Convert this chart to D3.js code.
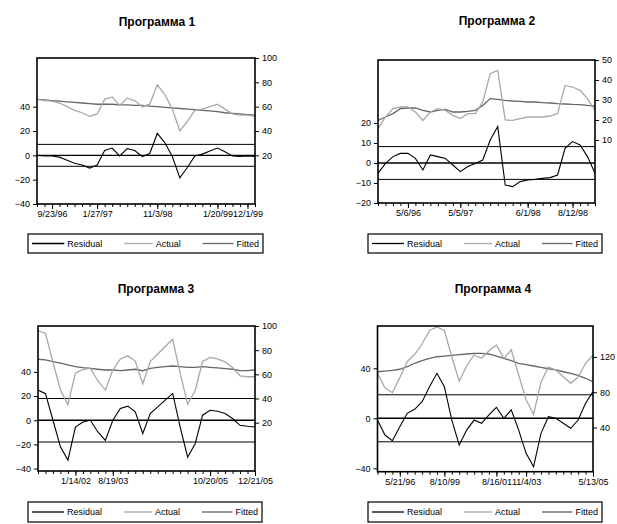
<!DOCTYPE html>
<html>
<head>
<meta charset="utf-8">
<script src="https://cdn.jsdelivr.net/npm/d3@7"></script>
<style>
body { margin: 0; background: #fff; }
text { font-family: "Liberation Sans", Arial, sans-serif; }
</style>
</head>
<body>
<div id="chart"></div>
<script>
const titles = ["Программа 1", "Программа 2", "Программа 3", "Программа 4"];
const legendNames = ["Residual", "Actual", "Fitted"];

// Программа 1
const p1Actual = [66, 65, 64.5, 63, 60, 57, 55, 52, 54, 66, 68, 61, 67, 65, 60, 62, 78, 70, 58, 40, 48, 57, 58, 60, 62, 58, 54, 53, 53, 52];
const p1Fitted = [66, 65.5, 65, 64.5, 64, 63.5, 63, 62.5, 62, 62, 62, 61.5, 61.5, 61, 61, 60.5, 60, 59.5, 59, 58.5, 58, 57.5, 57, 56.5, 56, 55, 54.5, 54, 53.5, 53];
const p1Resid  = [0, -0.5, -0.5, -1.5, -4, -6.5, -8, -10.5, -8, 4, 6, -0.5, 5.5, 4, -1, 1.5, 18, 10.5, -1, -18.5, -10, -0.5, 1, 3.5, 6, 3, -0.5, -1, -0.5, -1];
const p1Se = 9;
const p1TickAt = [2, 8, 16, 24, 28];
const p1TickLabels = ["9/23/96", "1/27/97", "11/3/98", "1/20/99", "12/1/99"];

// Программа 2
const p2Actual = [15.7, 21.5, 25.7, 26.5, 26.5, 24, 19.8, 24, 25.7, 24.8, 22.3, 20.7, 23.2, 23.2, 29, 43.2, 44.8, 20, 19.8, 20.7, 21.5, 21.5, 21.5, 22, 23.2, 37.3, 36.5, 34.8, 30.7, 24.8];
const p2Fitted = [19.8, 21.5, 23.2, 25.7, 26, 26, 24.8, 24, 24.8, 25.3, 24, 24, 24.3, 24.8, 27.3, 30.7, 30.3, 29.8, 29.5, 29.3, 29, 29, 28.7, 28.5, 28.2, 28, 27.8, 27.7, 27.3, 27];
const p2Resid  = [-5.2, -0.2, 3.2, 4.8, 4.8, 2.3, -3.5, 4, 3.2, 2.3, -1, -4.3, -1.8, -0.2, 1.5, 11.5, 18.2, -11, -11.8, -9.3, -8.5, -8.2, -7.7, -7.3, -6, 7.3, 10.7, 9, 3.2, -5.2];
const p2Se = 8.2;
const p2TickAt = [4, 11, 20, 26];
const p2TickLabels = ["5/6/96", "5/5/97", "6/1/98", "8/12/98"];

// Программа 3
const p3Actual = [96, 94, 70, 47, 35, 61, 64, 65, 54.5, 47, 63.5, 72.7, 75.3, 71, 52, 70.6, 76.8, 83, 89, 60.8, 35.2, 46.4, 70.6, 74, 72.8, 70.3, 65.6, 58.8, 58, 58];
const p3Fitted = [72.5, 71.9, 70.5, 69.2, 67.8, 66.4, 65.5, 65, 64.2, 63.6, 63.6, 63, 63.6, 64.2, 63, 65, 65.8, 66.4, 66.9, 66.4, 65.8, 65.8, 66.4, 65.8, 65.3, 64.7, 64.2, 63, 63, 63.6];
const p3Resid  = [25, 22, 0, -22, -33, -5.6, -1.4, 0, -9.7, -16.7, 0, 9.7, 11.7, 6.9, -11, 5.6, 11, 16.7, 22.2, -5.6, -30.6, -19.4, 4.2, 8.3, 7.5, 5.6, 1.4, -4.2, -5, -5.6];
const p3Se = 18;
const p3TickAt = [5, 10, 23, 29];
const p3TickLabels = ["1/14/02", "8/19/03", "10/20/05", "12/21/05"];

// Программа 4
const p4Actual = [101.4, 85.1, 79.5, 96.5, 114.6, 123, 134.6, 150, 154, 150, 119.9, 92.4, 110, 122.2, 118.4, 127, 133.5, 118.4, 128, 99.5, 71.5, 55, 91.2, 108.6, 105.2, 97.6, 90.1, 97.2, 112.8, 122.2];
const p4Fitted = [103.2, 104, 104.8, 106, 109, 112.8, 115.7, 118.4, 120.2, 121, 121.8, 122.5, 123.3, 124, 124, 123.3, 121, 118.4, 115.7, 112.8, 111.2, 109.7, 108.2, 106.6, 105.2, 103.2, 101.4, 99.2, 95.8, 92];
const p4Resid  = [-1.4, -13.4, -17.9, -6.7, 4, 7.2, 13.3, 25.3, 36, 25.3, -1.4, -21.4, -9.4, -1.4, -4, 2.7, 8.8, 0, 6.7, -9.4, -28, -38.7, -12, 1.3, 0, -4, -8, -1.4, 12, 21.3];
const p4Se = 18.8;
const p4TickAt = [3, 9, 16, 20, 29];
const p4TickLabels = ["5/21/96", "8/10/99", "8/16/01", "11/4/03", "5/13/05"];

const W = 617, H = 524;
const svg = d3.select('#chart').append('svg').attr('width', W).attr('height', H);

const panels = [
  { title: titles[0], actual: p1Actual, fitted: p1Fitted, resid: p1Resid, se: p1Se, tickAt: p1TickAt, tickLabels: p1TickLabels,
    x0: 37, x1: 255, y0: 58, y1: 204, left: [-40, 80], right: [-20, 100], leftTicks: [-40, -20, 0, 20, 40], rightTicks: [20, 40, 60, 80, 100],
    titleX: 157, titleY: 26, lx0: 28, lx1: 263, ly0: 234, ly1: 253 },
  { title: titles[1], actual: p2Actual, fitted: p2Fitted, resid: p2Resid, se: p2Se, tickAt: p2TickAt, tickLabels: p2TickLabels,
    x0: 378, x1: 595, y0: 60, y1: 203, left: [-20, 51.5], right: [-21.5, 50], leftTicks: [-20, -10, 0, 10, 20], rightTicks: [10, 20, 30, 40, 50],
    titleX: 497, titleY: 25, lx0: 368, lx1: 602, ly0: 234, ly1: 253 },
  { title: titles[2], actual: p3Actual, fitted: p3Fitted, resid: p3Resid, se: p3Se, tickAt: p3TickAt, tickLabels: p3TickLabels,
    x0: 38, x1: 255, y0: 326, y1: 471, left: [-42, 78], right: [-20, 100], leftTicks: [-40, -20, 0, 20, 40], rightTicks: [20, 40, 60, 80, 100],
    titleX: 156, titleY: 293, lx0: 28, lx1: 262, ly0: 502, ly1: 522 },
  { title: titles[3], actual: p4Actual, fitted: p4Fitted, resid: p4Resid, se: p4Se, tickAt: p4TickAt, tickLabels: p4TickLabels,
    x0: 377.5, x1: 593, y0: 326, y1: 471.7, left: [-42.7, 73.8], right: [-10, 155], leftTicks: [-40, 0, 40], rightTicks: [40, 80, 120],
    titleX: 493, titleY: 293, lx0: 368, lx1: 602, ly0: 502, ly1: 522 }
];

const colors = { resid: '#000', actual: '#a8a8a8', fitted: '#666' };

panels.forEach((p, k) => {
  const g = svg.append('g');
  const n = p.actual.length;
  const x  = d3.scaleLinear().domain([0, n - 1]).range([p.x0, p.x1]);
  const yL = d3.scaleLinear().domain(p.left).range([p.y1, p.y0]);
  const yR = d3.scaleLinear().domain(p.right).range([p.y1, p.y0]);

  g.append('text').attr('x', p.titleX).attr('y', p.titleY).attr('text-anchor', 'middle')
    .attr('font-size', 12).attr('font-weight', 'bold').text(p.title);

  g.append('clipPath').attr('id', 'clip' + k).append('rect')
    .attr('x', p.x0).attr('y', p.y0).attr('width', p.x1 - p.x0).attr('height', p.y1 - p.y0);

  // +/- se and zero lines of the residual
  [p.se, 0, -p.se].forEach(v => {
    g.append('line').attr('x1', p.x0).attr('x2', p.x1).attr('y1', yL(v)).attr('y2', yL(v))
      .attr('stroke', '#000').attr('stroke-width', v === 0 ? 1.4 : 1);
  });

  const lines = g.append('g').attr('clip-path', 'url(#clip' + k + ')');
  const lineR = d3.line().x((d, i) => x(i)).y(d => yR(d));
  const lineL = d3.line().x((d, i) => x(i)).y(d => yL(d));
  lines.append('path').datum(p.fitted).attr('d', lineR).attr('fill', 'none').attr('stroke', colors.fitted).attr('stroke-width', 1.3);
  lines.append('path').datum(p.actual).attr('d', lineR).attr('fill', 'none').attr('stroke', colors.actual).attr('stroke-width', 1.3);
  lines.append('path').datum(p.resid).attr('d', lineL).attr('fill', 'none').attr('stroke', colors.resid).attr('stroke-width', 1.1);

  g.append('rect').attr('x', p.x0).attr('y', p.y0).attr('width', p.x1 - p.x0).attr('height', p.y1 - p.y0)
    .attr('fill', 'none').attr('stroke', '#000').attr('stroke-width', 1.6);

  const style = ax => {
    ax.select('.domain').remove();
    ax.selectAll('text').attr('font-size', 9).attr('font-family', '"Liberation Sans", Arial, sans-serif');
    ax.selectAll('line').attr('stroke', '#000');
  };

  g.append('g').attr('transform', `translate(${p.x0},0)`)
    .call(d3.axisLeft(yL).tickValues(p.leftTicks).tickSize(4).tickPadding(3)).call(style);
  g.append('g').attr('transform', `translate(${p.x1},0)`)
    .call(d3.axisRight(yR).tickValues(p.rightTicks).tickSize(4).tickPadding(3)).call(style);
  g.append('g').attr('transform', `translate(0,${p.y1})`)
    .call(d3.axisBottom(x).tickValues(d3.range(n)).tickSize(3).tickFormat('')).call(style);
  g.append('g').attr('transform', `translate(0,${p.y1})`)
    .call(d3.axisBottom(x).tickValues(p.tickAt).tickSize(5).tickPadding(2).tickFormat((d, i) => p.tickLabels[i])).call(style);

  // legend
  const lg = g.append('g');
  lg.append('rect').attr('x', p.lx0).attr('y', p.ly0).attr('width', p.lx1 - p.lx0).attr('height', p.ly1 - p.ly0)
    .attr('fill', 'none').attr('stroke', '#000').attr('stroke-width', 1.2);
  const colW = (p.lx1 - p.lx0) / 3;
  const ym = (p.ly0 + p.ly1) / 2;
  [colors.resid, colors.actual, colors.fitted].forEach((c, i) => {
    const cx0 = p.lx0 + i * colW;
    const tx = cx0 + colW - 4;
    const t = lg.append('text').attr('x', tx).attr('y', ym + 3).attr('text-anchor', 'end')
      .attr('font-size', 9).text(legendNames[i]);
    const tw = t.node().getComputedTextLength();
    lg.append('line').attr('x1', cx0 + (i === 0 ? 4 : 18)).attr('x2', tx - tw - 3).attr('y1', ym).attr('y2', ym)
      .attr('stroke', c).attr('stroke-width', 1.3);
  });
});
</script>
</body>
</html>
